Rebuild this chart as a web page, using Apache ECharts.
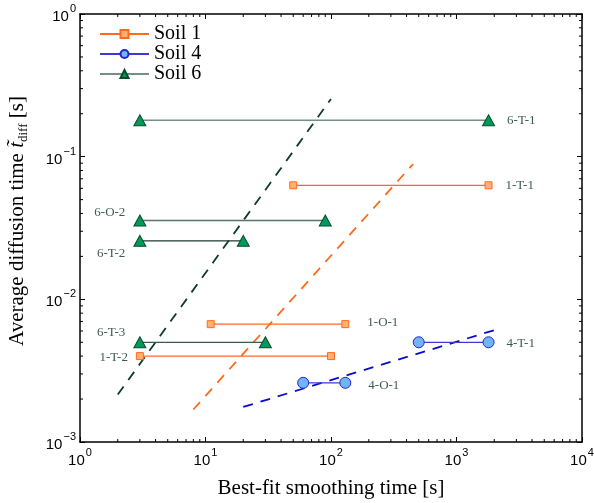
<!DOCTYPE html>
<html><head><meta charset="utf-8">
<script src="https://cdn.jsdelivr.net/npm/echarts@6/dist/echarts.min.js"></script>
<style>html,body{margin:0;padding:0;background:#fff}#c{width:594px;height:503px}</style>
</head><body><div id="c"></div>
<script>
// ---- data ----
const soilNames = ['Soil 1', 'Soil 4', 'Soil 6'];
const segLabels = ['6-T-1', '6-O-2', '6-T-2', '6-T-3', '1-T-1', '1-O-1', '1-T-2', '4-O-1', '4-T-1'];
const segSoil   = ['Soil 6', 'Soil 6', 'Soil 6', 'Soil 6', 'Soil 1', 'Soil 1', 'Soil 1', 'Soil 4', 'Soil 4'];
const segXStart = [3, 3, 3, 3, 50, 11, 3, 60, 500];
const segXEnd   = [1800, 90, 20, 30, 1800, 130, 100, 130, 1800];
const segY      = [0.18, 0.0357, 0.0257, 0.005, 0.063, 0.0067, 0.004, 0.0026, 0.005];
const fitSoil   = ['Soil 6', 'Soil 1', 'Soil 4'];
const fitXStart = [2, 8, 20];
const fitXEnd   = [100, 450, 2000];
const fitYStart = [0.00215, 0.00169, 0.00176];
const fitYEnd   = [0.254, 0.0887, 0.00608];
const xMajorTicks = [1, 10, 100, 1000, 10000];
const yMajorTicks = [0.001, 0.01, 0.1, 1];
const xMinorTicks = [2,3,4,5,6,7,8,9, 20,30,40,50,60,70,80,90, 200,300,400,500,600,700,800,900, 2000,3000,4000,5000,6000,7000,8000,9000];
const yMinorTicks = [0.002,0.003,0.004,0.005,0.006,0.007,0.008,0.009, 0.02,0.03,0.04,0.05,0.06,0.07,0.08,0.09, 0.2,0.3,0.4,0.5,0.6,0.7,0.8,0.9];

// ---- styles ----
const SERIF = 'Liberation Serif';
const SANS = 'Liberation Sans';
const soilStyle = {
  'Soil 1': {symbol: 'rect', size: 7, line: '#ff6a1f', fill: '#ffb174', edge: '#ff6a1f'},
  'Soil 4': {symbol: 'circle', size: 11, line: '#3a3ad8', fill: '#70b5f8', edge: '#2424c8'},
  'Soil 6': {symbol: 'triangle', size: [12, 11], line: '#4f6e60', fill: '#009a5c', edge: '#0b4a2c'}
};
const segLineColor = {'6-T-1': '#768f84', '6-O-2': '#587466', '6-T-2': '#1d3a2d', '6-T-3': '#3a5a4b'};
const fitColor = {'Soil 6': '#0f3a27', 'Soil 1': '#ff6a1a', 'Soil 4': '#0b0bcc'};
const labelLayout = {
  '6-T-1': {end: true, pos: 'right', dist: 12, off: [0, 0]},
  '1-T-1': {end: true, pos: 'right', dist: 13, off: [0, 0]},
  '4-T-1': {end: true, pos: 'right', dist: 12, off: [0, 1]},
  '1-O-1': {end: true, pos: 'right', dist: 18, off: [0, -2]},
  '4-O-1': {end: true, pos: 'right', dist: 17, off: [0, 3]},
  '6-O-2': {end: false, pos: 'left', dist: 8, off: [0, -8]},
  '6-T-2': {end: false, pos: 'left', dist: 8, off: [0, 13]},
  '6-T-3': {end: false, pos: 'left', dist: 8, off: [0, -10]},
  '1-T-2': {end: false, pos: 'left', dist: 8, off: [0, 1]}
};
const labelColor = '#3d5b50';

function supFmt(v) {
  const e = Math.round(Math.log10(v));
  return '{b|10}{s|' + (e < 0 ? '\u2212' + (-e) : e) + '}';
}
const supRich = {
  b: {fontFamily: SANS, fontSize: 15, color: '#000', verticalAlign: 'bottom', lineHeight: 21},
  s: {fontFamily: SANS, fontSize: 11, color: '#000', verticalAlign: 'top', lineHeight: 21, padding: [0, 0, 0, 1]}
};

const series = [];
// fit lines
for (let i = 0; i < fitSoil.length; i++) {
  series.push({
    type: 'line', name: fitSoil[i] + ' fit', silent: true, symbol: 'none', z: 1,
    data: [[fitXStart[i], fitYStart[i]], [fitXEnd[i], fitYEnd[i]]],
    lineStyle: {color: fitColor[fitSoil[i]], width: 1.8, type: [10, 8]}
  });
}
// segments
for (let i = 0; i < segLabels.length; i++) {
  const st = soilStyle[segSoil[i]];
  const lay = labelLayout[segLabels[i]];
  const lbl = {show: true, formatter: segLabels[i], position: lay.pos, distance: lay.dist, offset: lay.off,
    color: labelColor, fontFamily: SERIF, fontSize: 13};
  const p0 = {value: [segXStart[i], segY[i]]};
  const p1 = {value: [segXEnd[i], segY[i]]};
  if (lay.end) p1.label = lbl; else p0.label = lbl;
  series.push({
    type: 'line', name: segSoil[i], z: 3,
    data: [p0, p1],
    symbol: st.symbol, symbolSize: st.size, showAllSymbol: true,
    lineStyle: {color: segLineColor[segLabels[i]] || st.line, width: 1.3},
    itemStyle: {color: st.fill, borderColor: st.edge, borderWidth: 1},
    label: {show: false},
    emphasis: {disabled: true}
  });
}
// minor ticks (x, bottom & top)
series.push({
  type: 'custom', name: 'xminor', silent: true, clip: false, z: 5,
  data: xMinorTicks.map(v => [v, 0.01]),
  encode: {x: 0, y: 1},
  renderItem: function (params, api) {
    const v = api.value(0);
    const b = api.coord([v, yMajorTicks[0]]);
    const t = api.coord([v, yMajorTicks[yMajorTicks.length - 1]]);
    const s = {stroke: '#000', lineWidth: 1};
    return {type: 'group', children: [
      {type: 'line', shape: {x1: b[0], y1: b[1], x2: b[0], y2: b[1] - 3}, style: s},
      {type: 'line', shape: {x1: t[0], y1: t[1], x2: t[0], y2: t[1] + 3}, style: s}
    ]};
  }
});
series.push({
  type: 'custom', name: 'yminor', silent: true, clip: false, z: 5,
  data: yMinorTicks.map(v => [10, v]),
  encode: {x: 0, y: 1},
  renderItem: function (params, api) {
    const v = api.value(1);
    const l = api.coord([xMajorTicks[0], v]);
    const r = api.coord([xMajorTicks[xMajorTicks.length - 1], v]);
    const s = {stroke: '#000', lineWidth: 1};
    return {type: 'group', children: [
      {type: 'line', shape: {x1: l[0], y1: l[1], x2: l[0] + 3, y2: l[1]}, style: s},
      {type: 'line', shape: {x1: r[0], y1: r[1], x2: r[0] - 3, y2: r[1]}, style: s}
    ]};
  }
});

const axLine = {show: true, lineStyle: {color: '#000', width: 1.5}};
const axTick = {show: true, inside: true, length: 5, lineStyle: {color: '#000', width: 1}};

const option = {
  animation: false,
  backgroundColor: '#fff',
  grid: {left: 80, right: 12, top: 14, bottom: 61, containLabel: false, outerBoundsMode: 'none'},
  legend: {
    data: soilNames, orient: 'vertical', left: 99, top: 24, padding: 0,
    itemWidth: 49, itemHeight: 10, itemGap: 0,
    textStyle: {fontFamily: SERIF, fontSize: 20, color: '#000', lineHeight: 18},
    selectedMode: false
  },
  xAxis: [{
    type: 'log', logBase: 10, min: xMajorTicks[0], max: xMajorTicks[xMajorTicks.length - 1],
    axisLine: axLine, axisTick: axTick, splitLine: {show: false},
    axisLabel: {formatter: supFmt, rich: supRich, margin: 5},
    name: 'Best-fit smoothing time [s]', nameLocation: 'middle', nameGap: 36,
    nameTextStyle: {fontFamily: SERIF, fontSize: 21, color: '#000'}
  }, {
    type: 'log', logBase: 10, position: 'top', min: xMajorTicks[0], max: xMajorTicks[xMajorTicks.length - 1],
    axisLine: axLine, axisTick: axTick, splitLine: {show: false}, axisLabel: {show: false}
  }],
  yAxis: [{
    type: 'log', logBase: 10, min: yMajorTicks[0], max: yMajorTicks[yMajorTicks.length - 1],
    axisLine: axLine, axisTick: axTick, splitLine: {show: false},
    axisLabel: {formatter: supFmt, rich: supRich, margin: 4},
    name: '{a|Average diffusion time }{t|t\u0303}{d|diff}{a| [s]}', nameLocation: 'middle', nameGap: 50, nameRotate: 90,
    nameTextStyle: {
      padding: [0, 0, 0, 14],
      rich: {
        a: {fontFamily: SERIF, fontSize: 21, color: '#000', lineHeight: 26},
        t: {fontFamily: SERIF, fontSize: 21, fontStyle: 'italic', color: '#000', lineHeight: 26},
        d: {fontFamily: SERIF, fontSize: 13, color: '#000', lineHeight: 26, verticalAlign: 'bottom'}
      }
    }
  }, {
    type: 'log', logBase: 10, position: 'right', min: yMajorTicks[0], max: yMajorTicks[yMajorTicks.length - 1],
    axisLine: axLine, axisTick: axTick, splitLine: {show: false}, axisLabel: {show: false}
  }],
  series: series
};
const chart = echarts.init(document.getElementById('c'), null, {renderer: 'canvas'});
chart.setOption(option);
</script>
</body></html>
